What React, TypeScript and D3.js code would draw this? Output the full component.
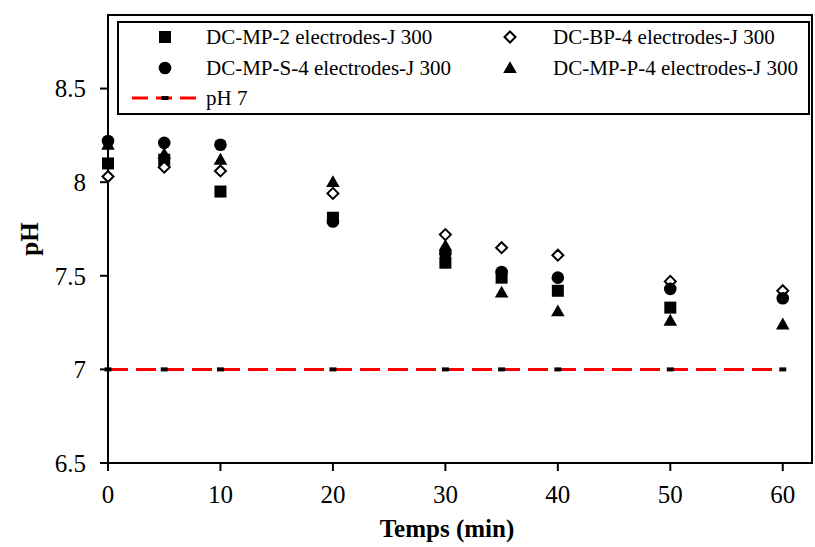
import React from "react";
import * as d3 from "d3";

const times = [0, 5, 10, 20, 30, 35, 40, 50, 60];
const squareVals = [8.1, 8.12, 7.95, 7.81, 7.57, 7.49, 7.42, 7.33];
const diamondVals = [8.03, 8.08, 8.06, 7.94, 7.72, 7.65, 7.61, 7.47, 7.42];
const circleVals = [8.22, 8.21, 8.2, 7.79, 7.62, 7.52, 7.49, 7.43, 7.38];
const triangleVals = [8.2, 8.15, 8.12, 8.0, 7.66, 7.41, 7.31, 7.26, 7.24];
const ph7Vals = [7, 7, 7, 7, 7, 7, 7, 7, 7];
const xTicks = [0, 10, 20, 30, 40, 50, 60];
const yTicks = [6.5, 7, 7.5, 8, 8.5];
const seriesNames = [
  "DC-MP-2 electrodes-J 300",
  "DC-BP-4 electrodes-J 300",
  "DC-MP-S-4 electrodes-J 300",
  "DC-MP-P-4 electrodes-J 300",
  "pH 7",
];

const W = 815;
const H = 547;
const left = 108, right = 812, top = 15, bottom = 463;
const FONT = "'Liberation Serif', 'Times New Roman', serif";

function Marker({ kind, cx, cy }: { kind: string; cx: number; cy: number }) {
  if (kind === "square") return <rect x={cx - 6} y={cy - 6} width={12} height={12} fill="#000" />;
  if (kind === "circle") return <circle cx={cx} cy={cy} r={6.3} fill="#000" />;
  if (kind === "triangle") {
    const p = d3.symbol().type(d3.symbolTriangle).size(80)();
    return <path d={p || ""} transform={`translate(${cx},${cy + 1})`} fill="#000" />;
  }
  if (kind === "diamond")
    return (
      <path
        d={`M${cx},${cy - 5.5}L${cx + 5.5},${cy}L${cx},${cy + 5.5}L${cx - 5.5},${cy}Z`}
        fill="#fff"
        stroke="#000"
        strokeWidth={2}
      />
    );
  return <rect x={cx - 3.5} y={cy - 2} width={7} height={4} fill="#000" />;
}

export default function App() {
  const x = d3.scaleLinear().domain([0, 62.6]).range([left, right]);
  const y = d3.scaleLinear().domain([6.5, 8.893]).range([bottom, top]);

  const series = [
    { kind: "square", vals: squareVals },
    { kind: "diamond", vals: diamondVals },
    { kind: "circle", vals: circleVals },
    { kind: "triangle", vals: triangleVals },
  ];

  const line = d3
    .line<number>()
    .x((_, i) => x(times[i]))
    .y((d) => y(d));

  const legendItems = [
    { kind: "square", name: seriesNames[0], lx: 165, tx: 206, ly: 37 },
    { kind: "diamond", name: seriesNames[1], lx: 510, tx: 553, ly: 37 },
    { kind: "circle", name: seriesNames[2], lx: 165, tx: 206, ly: 68 },
    { kind: "triangle", name: seriesNames[3], lx: 510, tx: 553, ly: 68 },
  ];

  return (
    <svg
      width={W}
      height={H}
      style={{ position: "absolute", left: 0, top: 0, background: "#fff" }}
      fontFamily={FONT}
    >
      {/* plot frame */}
      <rect x={left} y={top} width={right - left} height={bottom - top} fill="none" stroke="#000" strokeWidth={2} />

      {/* y ticks */}
      {yTicks.map((t) => (
        <g key={t}>
          <line x1={left - 8} x2={left} y1={y(t)} y2={y(t)} stroke="#000" strokeWidth={2} />
          <text x={86} y={y(t)} dy="0.35em" textAnchor="end" fontSize={25}>
            {t}
          </text>
        </g>
      ))}
      {/* x ticks */}
      {xTicks.map((t) => (
        <g key={t}>
          <line x1={x(t)} x2={x(t)} y1={bottom} y2={bottom + 8} stroke="#000" strokeWidth={2} />
          <text x={x(t)} y={503} textAnchor="middle" fontSize={25}>
            {t}
          </text>
        </g>
      ))}

      <text x={447} y={537} textAnchor="middle" fontSize={25} fontWeight="bold">
        Temps (min)
      </text>
      <text transform={`translate(38,${(top + bottom) / 2}) rotate(-90)`} textAnchor="middle" fontSize={25} fontWeight="bold">
        pH
      </text>

      {/* pH 7 line */}
      <path d={line(ph7Vals) || ""} fill="none" stroke="#ff0000" strokeWidth={3} strokeDasharray="20,8" />
      {ph7Vals.map((v, i) => (
        <Marker key={"p" + i} kind="dash" cx={x(times[i])} cy={y(v)} />
      ))}

      {/* data */}
      {series.map((s) =>
        s.vals.map((v, i) => <Marker key={s.kind + i} kind={s.kind} cx={x(times[i])} cy={y(v)} />)
      )}

      {/* legend */}
      <rect x={118} y={22} width={691} height={92} fill="#fff" stroke="#000" strokeWidth={2} />
      {legendItems.map((it) => (
        <g key={it.name}>
          <Marker kind={it.kind} cx={it.lx} cy={it.ly} />
          <text x={it.tx} y={it.ly} dy="0.35em" fontSize={21}>
            {it.name}
          </text>
        </g>
      ))}
      <line x1={130} x2={199} y1={98} y2={98} stroke="#ff0000" strokeWidth={3} strokeDasharray="16,8" strokeDashoffset={-2} />
      <Marker kind="dash" cx={165} cy={98} />
      <text x={206} y={98} dy="0.35em" fontSize={21}>
        {seriesNames[4]}
      </text>
    </svg>
  );
}
